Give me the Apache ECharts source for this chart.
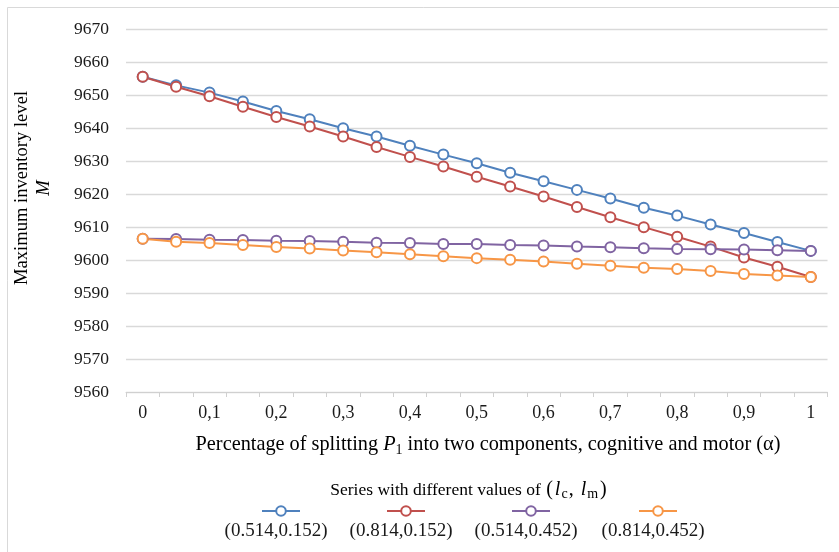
<!DOCTYPE html>
<html>
<head>
<meta charset="utf-8">
<script src="https://cdn.jsdelivr.net/npm/echarts@6/dist/echarts.min.js"></script>
<style>
html,body{margin:0;padding:0;background:#fff;}
#chart{width:839px;height:552px;}
</style>
</head>
<body>
<div id="chart"></div>
<script>
var categories = ['0','0,05','0,1','0,15','0,2','0,25','0,3','0,35','0,4','0,45','0,5','0,55','0,6','0,65','0,7','0,75','0,8','0,85','0,9','0,95','1'];
var seriesNames = ['(0.514,0.152)','(0.814,0.152)','(0.514,0.452)','(0.814,0.452)'];
var blueValues = [9655.6,9653.0,9650.8,9648.1,9645.2,9642.7,9640.0,9637.5,9634.7,9632.0,9629.4,9626.5,9623.9,9621.3,9618.7,9615.9,9613.5,9610.8,9608.2,9605.5,9602.8];
var redValues = [9655.6,9652.6,9649.7,9646.5,9643.4,9640.5,9637.5,9634.3,9631.3,9628.4,9625.3,9622.3,9619.3,9616.1,9613.0,9610.0,9607.1,9604.1,9600.8,9598.0,9594.9];
var purpleValues = [9606.5,9606.4,9606.2,9606.1,9605.9,9605.8,9605.6,9605.3,9605.2,9604.9,9604.9,9604.6,9604.4,9604.1,9603.9,9603.6,9603.4,9603.3,9603.2,9603.0,9602.8];
var orangeValues = [9606.5,9605.6,9605.2,9604.6,9604.0,9603.5,9602.9,9602.4,9601.8,9601.2,9600.6,9600.1,9599.6,9598.9,9598.3,9597.7,9597.3,9596.7,9595.8,9595.3,9594.9];
var yTicks = {min: 9560, max: 9670, interval: 10};

var colors = ['#4F81BD','#C0504D','#8064A2','#F79646'];
var allValues = [blueValues, redValues, purpleValues, orangeValues];
var FONT = 'Liberation Serif';
var TXT = '#1a1a1a';

var legendCenters = [280, 405, 530, 657];

var series = seriesNames.map(function(n, i){
  return {
    name: n, type: 'line', data: allValues[i],
    symbol: 'emptyCircle', symbolSize: 10,
    lineStyle: {color: colors[i], width: 2},
    itemStyle: {color: colors[i], borderColor: colors[i], borderWidth: 1.8},
    emphasis: {disabled: true},
    animation: false
  };
});

var legends = seriesNames.map(function(n, i){
  return {
    data: [n], left: legendCenters[i] - 19, top: 505,
    itemWidth: 38, itemHeight: 12, selectedMode: false,
    formatter: function(){ return ''; },
    padding: 0
  };
});

function richSet(size, lh){
  return {
    a: {fontFamily: FONT, fontSize: size, lineHeight: lh, color: TXT, verticalAlign: 'middle'},
    i: {fontFamily: FONT, fontSize: size, fontStyle: 'italic', lineHeight: lh, color: TXT, verticalAlign: 'middle'},
    s: {fontFamily: FONT, fontSize: Math.round(size*0.68), lineHeight: 10, color: TXT, verticalAlign: 'bottom'},
    m: {fontFamily: FONT, fontSize: 20, lineHeight: lh, color: TXT, verticalAlign: 'middle', padding: [0, 1, 0, 1]},
    mc: {fontFamily: FONT, fontSize: 20, lineHeight: lh, color: TXT, verticalAlign: 'middle', padding: [0, 6, 0, 0]},
    mi: {fontFamily: FONT, fontSize: 20, fontStyle: 'italic', lineHeight: lh, color: TXT, verticalAlign: 'middle', padding: [0, 0, 0, 1]},
    ms: {fontFamily: FONT, fontSize: 14, lineHeight: 10, color: TXT, verticalAlign: 'bottom', padding: [0, 1, 0, 1]}
  };
}

var graphics = [
  {type: 'rect', shape: {x: 7.5, y: 7.5, width: 840, height: 560}, style: {fill: 'none', stroke: '#d9d9d9', lineWidth: 1}, silent: true},
  {type: 'text', x: 33, y: 188, rotation: Math.PI/2,
    style: {text: '{a|Maximum inventory level}\n{i|M}', rich: richSet(18.6, 22), align: 'center', verticalAlign: 'middle'}},
  {type: 'text', x: 488, y: 445,
    style: {text: '{a|Percentage of splitting }{i|P}{s|1}{a| into two components, cognitive and motor (α)}', rich: richSet(20.3, 24), align: 'center', verticalAlign: 'middle'}},
  {type: 'text', x: 469, y: 490,
    style: {text: '{a|Series with different values of }{m|(}{mi|l}{ms|c}{mc|,}{mi|l}{ms|m}{m|)}', rich: richSet(17.5, 22), align: 'center', verticalAlign: 'middle'}}
];
seriesNames.forEach(function(n, i){
  graphics.push({type: 'text', x: legendCenters[i] - 4, y: 531,
    style: {text: n, fontFamily: FONT, fontSize: 19, fill: TXT, align: 'center', verticalAlign: 'middle'}});
});

var chart = echarts.init(document.getElementById('chart'), null, {renderer: 'canvas'});
chart.setOption({
  animation: false,
  backgroundColor: '#fff',
  grid: {left: 126, right: 11.5, top: 29.3, bottom: 160, containLabel: false},
  xAxis: {
    type: 'category', data: categories, boundaryGap: true,
    axisLine: {show: true, lineStyle: {color: '#d0d0d0', width: 1}},
    axisTick: {show: true, interval: 0, length: 5, lineStyle: {color: '#d0d0d0'}},
    axisLabel: {interval: 1, fontFamily: FONT, fontSize: 18, color: TXT, margin: 12},
    splitLine: {show: false}
  },
  yAxis: {
    type: 'value', min: yTicks.min, max: yTicks.max, interval: yTicks.interval,
    axisLine: {show: false}, axisTick: {show: false},
    axisLabel: {fontFamily: FONT, fontSize: 17.5, color: TXT, margin: 17, formatter: function(v){ return String(v); }},
    splitLine: {lineStyle: {color: '#d9d9d9', width: 1.3}}
  },
  legend: legends,
  series: series,
  graphic: graphics
});
</script>
</body>
</html>
